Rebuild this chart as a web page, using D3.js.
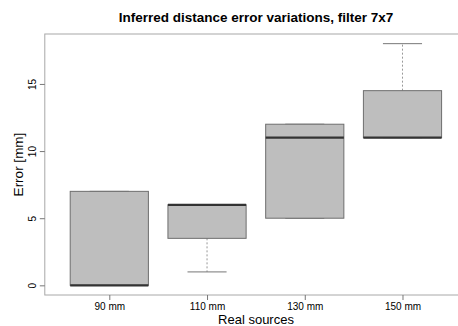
<!DOCTYPE html>
<html>
<head>
<meta charset="utf-8">
<script src="https://cdn.jsdelivr.net/npm/d3@7"></script>
<style>
  body { margin: 0; background: #fff; }
  text { font-family: "Liberation Sans", Arial, sans-serif; fill: #000; }
</style>
</head>
<body>
<div id="chart"></div>
<script>
// box stats
var categories = ["90 mm", "110 mm", "130 mm", "150 mm"];
var whiskerLow  = [0, 1, 5, 11];
var boxLow      = [0, 3.5, 5, 11];
var medians     = [0, 6, 11, 11];
var boxHigh     = [7, 6, 12, 14.5];
var whiskerHigh = [7, 6, 12, 18];
var yTicks = [0, 5, 10, 15];

var width = 458, height = 326;

var svg = d3.select("#chart").append("svg")
    .attr("width", width)
    .attr("height", height);

// R style: xlim 0.5..n+0.5 extended 4%
var x = d3.scaleLinear()
    .domain([0.34, 4.66])
    .range([44.8, 467]);
var y = d3.scaleLinear()
    .domain([-0.72, 18.72])
    .range([295, 34]);

var bw = (x(2) - x(1)) * 0.8;

var data = categories.map(function(c, i) {
    return {name: c, pos: i + 1, wl: whiskerLow[i], q1: boxLow[i], med: medians[i], q3: boxHigh[i], wh: whiskerHigh[i]};
});

// frame
svg.append("rect")
    .attr("x", x(0.34)).attr("y", y(18.72))
    .attr("width", x(4.66) - x(0.34))
    .attr("height", y(-0.72) - y(18.72))
    .attr("fill", "none")
    .attr("stroke", "#a8a8a8")
    .attr("stroke-width", 1);

var g = svg.selectAll(".box")
    .data(data)
    .enter().append("g");

// whiskers
g.append("line")
    .attr("x1", function(d){ return x(d.pos); })
    .attr("x2", function(d){ return x(d.pos); })
    .attr("y1", function(d){ return y(d.q3); })
    .attr("y2", function(d){ return y(d.wh); })
    .attr("stroke", "#999").attr("stroke-dasharray", "2,2");
g.append("line")
    .attr("x1", function(d){ return x(d.pos); })
    .attr("x2", function(d){ return x(d.pos); })
    .attr("y1", function(d){ return y(d.q1); })
    .attr("y2", function(d){ return y(d.wl); })
    .attr("stroke", "#999").attr("stroke-dasharray", "2,2");

// caps
["wh", "wl"].forEach(function(k) {
    g.append("line")
        .attr("x1", function(d){ return x(d.pos) - bw / 4; })
        .attr("x2", function(d){ return x(d.pos) + bw / 4; })
        .attr("y1", function(d){ return y(d[k]); })
        .attr("y2", function(d){ return y(d[k]); })
        .attr("stroke", "#777").attr("stroke-width", 1);
});

// boxes
g.append("rect")
    .attr("x", function(d){ return x(d.pos) - bw / 2; })
    .attr("y", function(d){ return y(d.q3); })
    .attr("width", bw)
    .attr("height", function(d){ return y(d.q1) - y(d.q3); })
    .attr("fill", "#bebebe")
    .attr("stroke", "#6e6e6e")
    .attr("stroke-width", 1);

// medians
g.append("line")
    .attr("x1", function(d){ return x(d.pos) - bw / 2; })
    .attr("x2", function(d){ return x(d.pos) + bw / 2; })
    .attr("y1", function(d){ return y(d.med); })
    .attr("y2", function(d){ return y(d.med); })
    .attr("stroke", "#333").attr("stroke-width", 2.2);

// y axis
var yAxis = svg.append("g")
    .attr("transform", "translate(" + x(0.34) + ",0)")
    .call(d3.axisLeft(y).tickValues(yTicks).tickSize(5).tickPadding(6));
yAxis.select(".domain").remove();
yAxis.selectAll("line").attr("stroke", "#777");
yAxis.selectAll("text")
    .attr("font-size", 10)
    .attr("font-family", "Liberation Sans, Arial, sans-serif")
    .attr("x", 0).attr("y", 0).attr("dy", null)
    .attr("transform", "translate(-9,0) rotate(-90)")
    .attr("text-anchor", "middle");

// x axis
var xAxis = svg.append("g")
    .attr("transform", "translate(0," + y(-0.72) + ")")
    .call(d3.axisBottom(x).tickValues([1, 2, 3, 4]).tickSize(5).tickPadding(3)
        .tickFormat(function(d){ return categories[d - 1]; }));
xAxis.select(".domain").remove();
xAxis.selectAll("line").attr("stroke", "#777");
xAxis.selectAll("text")
    .attr("font-size", 10)
    .attr("font-family", "Liberation Sans, Arial, sans-serif");

// titles
svg.append("text")
    .attr("x", 256).attr("y", 22)
    .attr("text-anchor", "middle")
    .attr("font-size", 13.5).attr("font-weight", "bold")
    .text("Inferred distance error variations, filter 7x7");
svg.append("text")
    .attr("x", 256).attr("y", 323.5)
    .attr("text-anchor", "middle")
    .attr("font-size", 13)
    .text("Real sources");
svg.append("text")
    .attr("transform", "translate(23," + y(9) + ") rotate(-90)")
    .attr("text-anchor", "middle")
    .attr("font-size", 13.5)
    .text("Error [mm]");
</script>
</body>
</html>
